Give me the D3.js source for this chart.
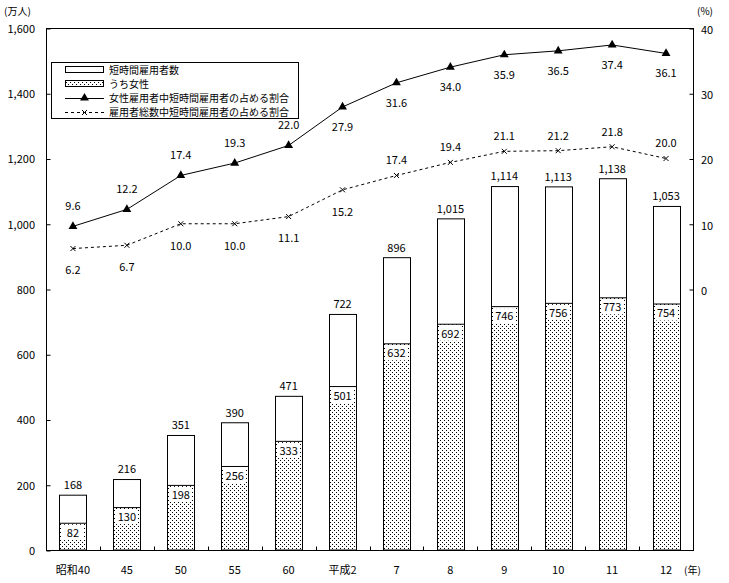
<!DOCTYPE html>
<html><head><meta charset="utf-8">
<script src="https://cdn.jsdelivr.net/npm/d3@7"></script>
<style>
html,body{margin:0;padding:0;background:#fff;}
text{font-family:"Noto Sans CJK JP","DejaVu Sans",sans-serif;font-size:11px;fill:#000;}
text.sm{font-size:10px;}
</style></head>
<body>
<svg id="chart" width="729" height="583"></svg>
<script>
const categories = ["昭和40","45","50","55","60","平成2","7","8","9","10","11","12"];
const shortTimeWorkers = [168,216,351,390,471,722,896,1015,1114,1113,1138,1053];
const womenWorkers = [82,130,198,256,333,501,632,692,746,756,773,754];
const womenShare = [9.6,12.2,17.4,19.3,22.0,27.9,31.6,34.0,35.9,36.5,37.4,36.1];
const totalShare = [6.2,6.7,10.0,10.0,11.1,15.2,17.4,19.4,21.1,21.2,21.8,20.0];
const leftTicks = [0,200,400,600,800,1000,1200,1400,1600];
const rightTicks = [0,10,20,30,40];
const legendLabels = ["短時間雇用者数","うち女性","女性雇用者中短時間雇用者の占める割合","雇用者総数中短時間雇用者の占める割合"];

const svg = d3.select("#chart");
const L = 46, R = 693, T = 28, B = 550;

// pattern
const defs = svg.append("defs");
const pat = defs.append("pattern").attr("id","dots").attr("patternUnits","userSpaceOnUse")
  .attr("width",4).attr("height",4);
pat.append("rect").attr("width",4).attr("height",4).attr("fill","#fff");
pat.append("rect").attr("x",0).attr("y",0).attr("width",1).attr("height",1).attr("fill","#000");
pat.append("rect").attr("x",2).attr("y",2).attr("width",1).attr("height",1).attr("fill","#000");

const x = d3.scaleBand().domain(categories).range([L,R]).paddingInner(0.5).paddingOuter(0.25);
const step = x.step();
const yL = d3.scaleLinear().domain([0,1600]).range([B,T]);
const yR = d3.scaleLinear().domain([-40,40]).range([B,T]);
const cx = c => x(c) + x.bandwidth()/2;

// frame
svg.append("rect").attr("x",L+0.5).attr("y",T+0.5).attr("width",R-L).attr("height",B-T)
  .attr("fill","none").attr("stroke","#000");

// left axis
const gL = svg.append("g").attr("transform",`translate(${L+0.5},0)`)
  .call(d3.axisRight(yL).tickValues(leftTicks).tickSize(4).tickFormat(""));
gL.select(".domain").remove();
gL.selectAll("line").attr("stroke","#000").attr("transform","translate(0,0.5)");
svg.append("g").selectAll("text").data(leftTicks).join("text")
  .attr("x",35).attr("y",d=>yL(d)+1).attr("dy","0.35em").attr("text-anchor","end")
  .text(d=>d3.format(",")(d));

// right axis
const gR = svg.append("g").attr("transform",`translate(${R+0.5},0)`)
  .call(d3.axisLeft(yR).tickValues(rightTicks).tickSize(4).tickFormat(""));
gR.select(".domain").remove();
gR.selectAll("line").attr("stroke","#000").attr("transform","translate(0,0.5)");
svg.append("g").selectAll("text").data(rightTicks).join("text")
  .attr("x",701).attr("y",d=>yR(d)+2).attr("dy","0.35em").attr("text-anchor","start")
  .text(d=>d);

// bottom axis ticks (between categories)
const gB = svg.append("g").attr("transform",`translate(0,${B+0.5})`)
  .call(d3.axisTop(x).tickSize(4).tickFormat("").offset(0));
gB.select(".domain").remove();
gB.selectAll(".tick").attr("transform",d=>`translate(${Math.round(x(d)-step*0.25)+0.5},0)`)
  .filter((d,i)=>i===0).remove();
gB.selectAll("line").attr("stroke","#000");
svg.append("g").selectAll("text").data(categories).join("text")
  .attr("x",d=>cx(d)).attr("y",570).attr("dy","0.35em").attr("text-anchor","middle")
  .text(d=>d);

// unit labels
svg.append("text").attr("class","sm").attr("x",4).attr("y",11).attr("dy","0.35em").text("(万人)");
svg.append("text").attr("class","sm").attr("x",697).attr("y",11).attr("dy","0.35em").text("(%)");
svg.append("text").attr("class","sm").attr("x",684).attr("y",570).attr("dy","0.35em").text("(年)");

// bars
const bars = svg.append("g");
categories.forEach((c,i)=>{
  const bx = Math.round(x(c))+0.5, bw = Math.round(x.bandwidth());
  const yt = yL(shortTimeWorkers[i]), yw = yL(womenWorkers[i]);
  bars.append("rect").attr("x",bx).attr("y",yt).attr("width",bw).attr("height",B-yt)
    .attr("fill","#fff").attr("stroke","#000");
  bars.append("rect").attr("x",bx).attr("y",yw).attr("width",bw).attr("height",B-yw)
    .attr("fill","url(#dots)").attr("stroke","#000");
  bars.append("rect").attr("x",bx+1.5).attr("y",yw+1.5).attr("width",bw-4).attr("height",15)
    .attr("fill","#fff");
  bars.append("text").attr("x",cx(c)).attr("y",yw+9.5).attr("dy","0.35em")
    .attr("text-anchor","middle").text(womenWorkers[i]);
  bars.append("text").attr("x",cx(c)).attr("y",yt-10).attr("dy","0.35em")
    .attr("text-anchor","middle").text(d3.format(",")(shortTimeWorkers[i]));
});

// lines
const lineW = d3.line().x((d,i)=>cx(categories[i])).y(d=>yR(d));
svg.append("path").datum(womenShare).attr("d",lineW).attr("fill","none").attr("stroke","#000");
svg.append("path").datum(totalShare).attr("d",lineW).attr("fill","none").attr("stroke","#000")
  .attr("stroke-dasharray","3,3");

const tri = d3.symbol().type(d3.symbolTriangle).size(34);
svg.append("g").selectAll("path").data(womenShare).join("path")
  .attr("transform",(d,i)=>`translate(${cx(categories[i])},${yR(d)})`).attr("d",tri).attr("fill","#000");
svg.append("g").selectAll("path").data(totalShare).join("path")
  .attr("transform",(d,i)=>`translate(${cx(categories[i])},${yR(d)})`)
  .attr("d","M-2.5,-2.5L2.5,2.5M-2.5,2.5L2.5,-2.5").attr("stroke","#000").attr("fill","none");

// line labels
svg.append("g").selectAll("text").data(womenShare).join("text")
  .attr("x",(d,i)=>cx(categories[i])).attr("y",(d,i)=>yR(d)+(i<5?-20:20)).attr("dy","0.35em")
  .attr("text-anchor","middle").text(d=>d.toFixed(1));
svg.append("g").selectAll("text").data(totalShare).join("text")
  .attr("x",(d,i)=>cx(categories[i])).attr("y",(d,i)=>yR(d)+(i<6?22:-15)).attr("dy","0.35em")
  .attr("text-anchor","middle").text(d=>d.toFixed(1));

// legend
const lg = svg.append("g");
lg.append("rect").attr("x",51.5).attr("y",62.5).attr("width",247).attr("height",56)
  .attr("fill","#fff").attr("stroke","#000");
const rowY = [70,84,98,112];
lg.append("rect").attr("x",65.5).attr("y",rowY[0]-3.5).attr("width",38).attr("height",6).attr("fill","#fff").attr("stroke","#000");
lg.append("rect").attr("x",65.5).attr("y",rowY[1]-3.5).attr("width",38).attr("height",6).attr("fill","url(#dots)").attr("stroke","#000");
lg.append("line").attr("x1",65).attr("x2",104).attr("y1",rowY[2]+0.5).attr("y2",rowY[2]+0.5).attr("stroke","#000");
lg.append("path").attr("transform",`translate(84.5,${rowY[2]})`).attr("d",tri).attr("fill","#000");
lg.append("line").attr("x1",65).attr("x2",104).attr("y1",rowY[3]+0.5).attr("y2",rowY[3]+0.5).attr("stroke","#000").attr("stroke-dasharray","3,3");
lg.append("path").attr("transform",`translate(84.5,${rowY[3]+0.5})`).attr("d","M-2.5,-2.5L2.5,2.5M-2.5,2.5L2.5,-2.5").attr("stroke","#000");
lg.selectAll("text.lt").data(legendLabels).join("text").attr("class","lt sm")
  .attr("x",109).attr("y",(d,i)=>rowY[i]).attr("dy","0.35em").text(d=>d);
</script>
</body></html>
